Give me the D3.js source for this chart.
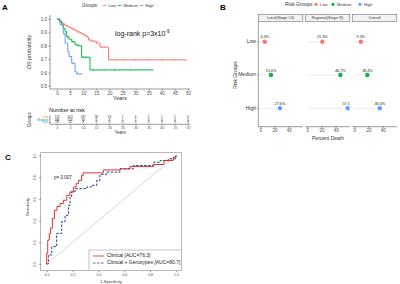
<!DOCTYPE html>
<html><head><meta charset="utf-8">
<script src="https://cdn.jsdelivr.net/npm/d3@7"></script>
<style>body{margin:0;background:#fff}svg{display:block;font-family:"Liberation Sans",Arial,sans-serif}</style>
</head><body><svg id="c" width="400" height="284"></svg>
<script>
// ---------- DATA ----------
const kmGroups = ["Low","Medium","High"];
const kmColors = ["#F8766D","#00BA38","#619CFF"];
const lowT = [0,0.5,1,1.5,2,2.5,3,3.5,4,4.5,5,5.5,6,6.5,7,7.5,8,8.5,9,9.5,10,10.5,11,11.5,12,13,15,16.4,19.7,49.5];
const lowS = [1,.992,.985,.977,.97,.963,.956,.95,.944,.94,.935,.93,.925,.92,.915,.91,.905,.9,.895,.89,.885,.88,.875,.865,.845,.835,.82,.79,.695,.695];
const medT = [0,1.1,1.8,2.4,3.1,3.7,4.5,5.6,6.9,8.1,9.4,12.6,36.8];
const medS = [1,.98,.955,.93,.905,.868,.85,.83,.806,.8,.715,.62,.62];
const highT = [0,1.1,2.4,3.1,4.1,4.6,5.6,6.9,7.5,9.7];
const highS = [1,.96,.89,.82,.756,.72,.67,.607,.59,.59];
const lowCens = [1,2,3,4,5,6,7,8,9,10,11,12,13,14,17,18,22,26,30,35,40,45];
const medCens = [2,4,6,8,10,11,14,18,22,28];
const highCens = [3,6,8];
const kmXTicks = [0,5,10,15,20,25,30,35,40,45,50];
const kmYTicks = [0.5,0.6,0.7,0.8,0.9,1.0];
const riskLow = [713,413,137,39,19,7,6,2,1,1,0];
const riskMed = [196,113,30,6,3,1,1,0,0,0,0];
const riskHigh = [29,12,4,0,0,0,0,0,0,0,0];

const bFacets = ["Local(Stage I-II)","Regional(Stage III)","Overall"];
const bGroups = ["Low","Medium","High"];
const bLocal = [6.3,15.0,27.6];
const bRegional = [21.3,46.7,57.1];
const bOverall = [9.3,18.4,36.0];
const bTicks = [0,20,40];

const rocClinX = [0,0,.008,.02,.03,.044,.06,.08,.103,.129,.155,.18,.206,.227,.245,.27,.283,.425,.438,.567,.644,.825,.902,.907,.979,1];
const rocClinY = [0,.1,.22,.28,.33,.42,.495,.53,.557,.587,.633,.664,.709,.74,.77,.816,.84,.84,.867,.877,.898,.917,.917,.954,.985,1];
const rocGenX = [0,.013,.039,.077,.116,.142,.168,.18,.193,.219,.31,.348,.387,.412,.464,.567,.67,.825,.877,.94,1];
const rocGenY = [0,.083,.16,.28,.39,.45,.54,.618,.664,.694,.71,.725,.77,.826,.847,.877,.908,.938,.954,.97,1];
const rocTicks = [0,0.2,0.4,0.6,0.8,1.0];
const rocLegend = ["Clinical [AUC=76.3]","Clinical + Genotypes [AUC=80.7]"];
const rocColors = ["#E31A1C","#2B3A8C"];

// ---------- DRAW ----------
const svg = d3.select("#c");
const txt = "#333", axc = "#333";
function label(x,y,s,opt={}){
  const t = svg.append("text").attr("x",x).attr("y",y).text(s)
   .attr("font-size",opt.size||5).attr("fill",opt.fill||txt)
   .attr("text-anchor",opt.anchor||"start");
  if(opt.bold) t.attr("font-weight","bold");
  if(opt.rot) t.attr("transform",`rotate(${opt.rot},${x},${y})`);
  if(opt.base) t.attr("dominant-baseline",opt.base);
  return t;
}
function styleAxis(g,fs){
  g.select(".domain").remove();
  g.selectAll("line").attr("stroke",axc).attr("stroke-width",0.5);
  g.selectAll("text").attr("font-size",fs).attr("fill","#4d4d4d").attr("font-family","Liberation Sans, Arial, sans-serif");
}

// ===== Panel A =====
label(2,10,"A",{size:8,bold:true,fill:"#000"});
// legend
label(82,7,"Groups",{size:4.6});
const legX = [102.5,117.5,139.5];
kmGroups.forEach((g,i)=>{
  svg.append("line").attr("x1",legX[i]).attr("x2",legX[i]+4).attr("y1",5.5).attr("y2",5.5).attr("stroke",kmColors[i]).attr("stroke-width",0.8);
  label(legX[i]+6,7,g,{size:4});
});
const xA = d3.scaleLinear().domain([0,50]).range([57,188]);
const yA = d3.scaleLinear().domain([0.5,1]).range([86,19]);
svg.append("line").attr("x1",50).attr("x2",190).attr("y1",89).attr("y2",89).attr("stroke",axc).attr("stroke-width",0.5);
svg.append("line").attr("x1",50).attr("x2",50).attr("y1",15).attr("y2",89).attr("stroke",axc).attr("stroke-width",0.5);
const gxA = svg.append("g").attr("transform","translate(0,89)").call(d3.axisBottom(xA).tickValues(kmXTicks).tickSize(1.5).tickPadding(1.5));
styleAxis(gxA,4.5);
const gyA = svg.append("g").attr("transform","translate(50,0)").call(d3.axisLeft(yA).tickValues(kmYTicks).tickFormat(d3.format(".1f")).tickSize(1.5).tickPadding(1.5));
styleAxis(gyA,4.5);
label(120,100,"Years",{size:5.5,anchor:"middle"});
label(31,52,"OS probability",{size:5.5,anchor:"middle",rot:-90});
const lr = label(115,36,"log-rank p=3x10",{size:7,fill:"#111"});
lr.append("tspan").attr("dy",-3).attr("font-size",4.5).text("-9");

const kmData = [[lowT,lowS,lowCens],[medT,medS,medCens],[highT,highS,highCens]];
const stepLine = d3.line().x(d=>xA(d[0])).y(d=>yA(d[1])).curve(d3.curveStepAfter);
kmData.forEach(([T,S,C],i)=>{
  const pts = T.map((t,j)=>[t,S[j]]);
  svg.append("path").attr("d",stepLine(pts)).attr("fill","none").attr("stroke",kmColors[i]).attr("stroke-width",1);
  C.forEach(c=>{
    if(c>T[T.length-1]) return;
    let s=S[0]; for(let j=0;j<T.length;j++){ if(T[j]<=c) s=S[j]; }
    svg.append("line").attr("x1",xA(c)).attr("x2",xA(c)).attr("y1",yA(s)-1.2).attr("y2",yA(s)+1.2).attr("stroke",kmColors[i]).attr("stroke-width",0.5);
  });
});

// risk table
label(49,112,"Number at risk",{size:5.5,fill:"#111"});
const riskRows = [riskLow,riskMed,riskHigh];
const rowY = [117.3,120,122.6];
svg.append("line").attr("x1",50).attr("x2",190).attr("y1",124.3).attr("y2",124.3).attr("stroke",axc).attr("stroke-width",0.5);
svg.append("line").attr("x1",50).attr("x2",50).attr("y1",115.5).attr("y2",124.3).attr("stroke",axc).attr("stroke-width",0.5);
riskRows.forEach((row,i)=>{
  svg.append("line").attr("x1",48.8).attr("x2",50).attr("y1",rowY[i]).attr("y2",rowY[i]).attr("stroke",axc).attr("stroke-width",0.4);
  label(48,rowY[i],kmGroups[i],{size:3,fill:kmColors[i],anchor:"end",base:"middle"});
  row.forEach((v,j)=>label(xA(kmXTicks[j]),rowY[i],v,{size:3,anchor:"middle",base:"middle",fill:"#222"}));
});
const gxR = svg.append("g").attr("transform","translate(0,124.3)").call(d3.axisBottom(xA).tickValues(kmXTicks).tickSize(1.2).tickPadding(1));
styleAxis(gxR,3.5);
label(120,133.5,"Years",{size:4.5,anchor:"middle"});
label(31,119.5,"Groups",{size:4.5,anchor:"middle",rot:-90});

// ===== Panel B =====
label(220,10,"B",{size:8,bold:true,fill:"#000"});
label(285,6,"Risk Groups",{size:5});
const bLegX = [316,333,360];
bGroups.forEach((g,i)=>{
  svg.append("circle").attr("cx",bLegX[i]).attr("cy",4.3).attr("r",1.6).attr("fill",kmColors[i]);
  label(bLegX[i]+4,6,g,{size:4});
});
const yB = d3.scalePoint().domain(bGroups).range([41.7,108.3]);
const panelX0 = [258.3,305.2,352.2], panelW = 44.6;
const bVals = [bLocal,bRegional,bOverall];
svg.append("line").attr("x1",258.3).attr("x2",258.3).attr("y1",22).attr("y2",126.7).attr("stroke",axc).attr("stroke-width",0.5);
bGroups.forEach(g=>{
  svg.append("line").attr("x1",257).attr("x2",258.3).attr("y1",yB(g)).attr("y2",yB(g)).attr("stroke",axc).attr("stroke-width",0.5);
  label(256,yB(g),g,{size:5,anchor:"end",base:"middle",fill:"#333"});
});
label(237,75,"Risk Groups",{size:5,anchor:"middle",rot:-90});
label(328,140,"Percent Death",{size:5,anchor:"middle"});
const defs = svg.append("defs");
bFacets.forEach((f,k)=>{
  const x0 = panelX0[k];
  const xB = d3.scaleLinear().domain([-2.86,59.96]).range([x0,x0+panelW]);
  svg.append("rect").attr("x",x0).attr("y",14.7).attr("width",panelW).attr("height",6.6).attr("fill","#f2f2f2").attr("stroke","#555").attr("stroke-width",0.5);
  label(x0+panelW/2,18.2,f,{size:3.8,anchor:"middle",base:"middle"});
  svg.append("line").attr("x1",x0).attr("x2",x0+panelW).attr("y1",126.7).attr("y2",126.7).attr("stroke",axc).attr("stroke-width",0.5);
  const gx = svg.append("g").attr("transform","translate(0,126.7)").call(d3.axisBottom(xB).tickValues(bTicks).tickSize(1.5).tickPadding(1));
  styleAxis(gx,4.5);
  defs.append("clipPath").attr("id","clipB"+k).append("rect").attr("x",x0).attr("y",22).attr("width",panelW).attr("height",104.7);
  const gp = svg.append("g").attr("clip-path",`url(#clipB${k})`);
  bVals[k].forEach((v,i)=>{
    const g = bGroups[i];
    gp.append("line").attr("x1",xB(0)).attr("x2",xB(v)).attr("y1",yB(g)).attr("y2",yB(g)).attr("stroke","#d9d9d9").attr("stroke-width",0.5);
    gp.append("circle").attr("cx",xB(v)).attr("cy",yB(g)).attr("r",2.2).attr("fill",kmColors[i]);
    gp.append("text").attr("x",xB(v)).attr("y",yB(g)-3.3).text(v.toFixed(1)+"%").attr("font-size",3.8).attr("text-anchor","middle").attr("fill","#222");
  });
});

// ===== Panel C =====
label(5,160,"C",{size:8,bold:true,fill:"#000"});
const xC = d3.scaleLinear().domain([0,1]).range([46.7,176]);
const yC = d3.scaleLinear().domain([0,1]).range([264,155.5]);
svg.append("rect").attr("x",40.7).attr("y",152.7).attr("width",141).attr("height",118).attr("fill","none").attr("stroke","#888").attr("stroke-width",0.6);
const gxC = svg.append("g").attr("transform","translate(0,270.7)").call(d3.axisBottom(xC).tickValues(rocTicks).tickFormat(d3.format(".1f")).tickSize(1.5).tickPadding(1.2));
styleAxis(gxC,3.5);
const gyC = svg.append("g").attr("transform","translate(40.7,0)").call(d3.axisLeft(yC).tickValues(rocTicks).tickFormat(d3.format(".1f")).tickSize(1.5).tickPadding(1.2));
styleAxis(gyC,3.5);
gyC.selectAll(".tick text").attr("transform","rotate(-90)").attr("text-anchor","middle").attr("x",0).attr("y",-4.5).attr("dy",0);
label(111,283,"1-Specificity",{size:4,anchor:"middle"});
label(29,207,"Sensitivity",{size:4,anchor:"middle",rot:-90});
svg.append("line").attr("x1",xC(0)).attr("y1",yC(0)).attr("x2",xC(1)).attr("y2",yC(1)).attr("stroke","#bbb").attr("stroke-width",0.6);
const rl = d3.line().x(d=>xC(d[0])).y(d=>yC(d[1])).curve(d3.curveStepAfter);
svg.append("path").attr("d",rl(rocGenX.map((x,i)=>[x,rocGenY[i]]))).attr("fill","none").attr("stroke",rocColors[1]).attr("stroke-width",1).attr("stroke-dasharray","2.5,1.5");
svg.append("path").attr("d",rl(rocClinX.map((x,i)=>[x,rocClinY[i]]))).attr("fill","none").attr("stroke",rocColors[0]).attr("stroke-width",0.9);
label(54,179,"p= 0.007",{size:4.5,fill:"#222"});
svg.append("rect").attr("x",89).attr("y",250).attr("width",92.7).attr("height",20.7).attr("fill","#fff").attr("stroke","#888").attr("stroke-width",0.5);
rocLegend.forEach((s,i)=>{
  const y = 256 + i*7;
  svg.append("line").attr("x1",93).attr("x2",104).attr("y1",y).attr("y2",y).attr("stroke",rocColors[i]).attr("stroke-width",0.8).attr("stroke-dasharray",i?"2.5,1.5":null);
  label(107,y,s,{size:5,base:"middle",fill:"#222"});
});
</script></body></html>
